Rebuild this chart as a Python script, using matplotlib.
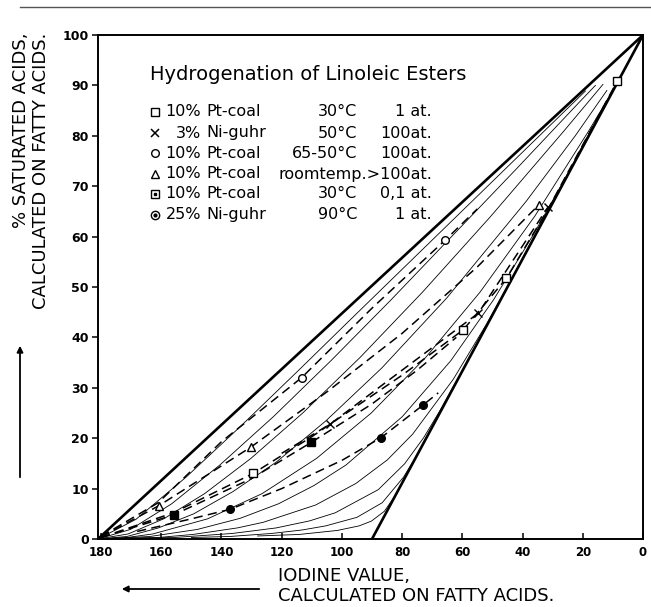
import matplotlib
matplotlib.use("Agg")
import matplotlib.pyplot as plt
from matplotlib.lines import Line2D
from matplotlib.patches import FancyArrowPatch

W, H, DPI = 651, 607, 100

# ---------------- data (iodine value, % saturated acids) ----------------
upper_iv = [181, 0]
upper_sat = [0, 100]
lower_iv = [90, 0]
lower_sat = [0, 100]

# thin family of curves
c1_iv = [181, 168.4, 151.7, 133.4, 114.5, 95.5, 76.4, 57.3, 38.2, 19.1]
c1_sat = [0, 3.9, 12.3, 22.5, 33.4, 44.5, 55.6, 66.7, 77.8, 88.9]
c2_iv = [181, 170.2, 156.5, 140.5, 122.7, 103.6, 83.6, 63.1, 42.1, 21.1, 15.8]
c2_sat = [0, 1.9, 7.0, 14.7, 24.3, 35.4, 47.5, 60.3, 73.4, 86.7, 90.0]
c3_iv = [181, 171, 159.2, 145.6, 130.2, 113, 94, 73.2, 50.6, 26.2, 13.3]
c3_sat = [0, 1, 4, 9, 16, 25, 36, 49, 64, 81, 90.2]
c4_iv = [181, 171.4, 160.9, 149.2, 136.2, 121.7, 105.4, 86.8, 65.2, 38.8, 22.5, 12]
c4_sat = [0, 0.5, 2.2, 5.0, 9.4, 15.3, 23.4, 33.9, 47.8, 67.0, 80.0, 89.0]
c5_iv = [181, 171.9, 162.8, 144.6, 126.5, 108.4, 90.25, 72.2, 54.1, 36.0, 18.0, 11]
c5_sat = [0, 0.25, 1, 4, 9, 16, 25, 36, 49, 64, 81, 88]
c6_iv = [181, 163.7, 148, 133.8, 121, 109.3, 98.6, 79.9, 63.8, 49.6, 36.5, 24.1, 13]
c6_sat = [0, 0.5, 1.9, 4.1, 7.0, 10.6, 14.7, 24.3, 35.4, 47.5, 60.3, 73.4, 86.0]
c7_iv = [178, 161, 149.5, 134.7, 126.2, 108.7, 95.4, 84.9, 76.5, 63, 51.7, 41.1, 30.9, 20.6]
c7_sat = [0.1, 0.3, 0.9, 2.2, 3.3, 6.75, 11.0, 15.7, 20.8, 31.7, 42.9, 54.3, 65.7, 77.1]
c8_iv = [170, 155.6, 136.4, 121.8, 110.7, 102.2, 87.9, 79.2, 72.85, 67.5, 57.6, 48]
c8_sat = [0.15, 0.3, 1.1, 2.2, 3.6, 5.2, 9.8, 14.9, 20.1, 25.4, 36, 46.7]
c9_iv = [150, 137.2, 123.3, 113.1, 105.4, 95, 86.6, 79.5, 74.3]
c9_sat = [0.3, 0.5, 1.1, 1.8, 2.6, 4.3, 7.2, 12.3, 17.4]
c10_iv = [128, 114.2, 101.5, 94.3, 90.2, 85.9, 82.3]
c10_sat = [0.6, 0.9, 1.7, 2.6, 3.55, 5.5, 8.6]

# experimental series: measured points
sq_iv = [129.5, 59.7, 45.4, 8.5]
sq_sat = [13.0, 41.5, 51.7, 90.9]
x_iv = [103.9, 54.7, 31.5]
x_sat = [22.8, 44.8, 65.9]
ci_iv = [113.4, 65.7]
ci_sat = [32.0, 59.3]
tr_iv = [160.8, 130.3, 34.6]
tr_sat = [6.6, 18.2, 66.3]
bs_iv = [155.8, 110.1]
bs_sat = [4.8, 19.2]
dc_iv = [137.1, 87.0, 73.0]
dc_sat = [5.9, 20.1, 26.6]

# dashed connecting lines (read along the drawn dashes)
sq_path_iv = [180, 156, 129.5, 110, 80, 59.7, 45.4, 31.5, 8.5]
sq_path_sat = [0.3, 5.2, 13.0, 20.3, 32.5, 41.5, 51.7, 65.5, 90.9]
x_path_iv = [120, 103.9, 80, 54.7, 31.5]
x_path_sat = [17.0, 22.8, 33.5, 44.8, 65.9]
ci_path_iv = [180, 161, 140, 113.4, 90, 65.7, 55]
ci_path_sat = [0.5, 7.2, 19.3, 32.0, 45.8, 59.3, 65.5]
tr_path_iv = [180, 160.8, 130.3, 104.5, 80, 55, 34.6]
tr_path_sat = [0.4, 6.6, 18.2, 29.4, 40.8, 54.0, 66.3]
bs_path_iv = [180, 155.8, 130, 110.1, 90, 75, 62]
bs_path_sat = [0.3, 4.8, 12.0, 19.2, 26.8, 33.5, 40.0]
dc_path_iv = [168, 150, 137.1, 120, 100, 87.0, 73.0, 68]
dc_path_sat = [1.5, 4.0, 5.9, 10.0, 15.6, 20.1, 26.6, 29.0]

x_ticks = [180, 160, 140, 120, 100, 80, 60, 40, 20, 0]
y_ticks = [0, 10, 20, 30, 40, 50, 60, 70, 80, 90, 100]

legend_markers = ["s", "x", "o", "^", "sdot", "odot"]
legend_cat = ["10%", "3%", "10%", "10%", "10%", "25%"]
legend_cat2 = ["Pt-coal", "Ni-guhr", "Pt-coal", "Pt-coal", "Pt-coal", "Ni-guhr"]
legend_temp = ["30°C", "50°C", "65-50°C", "", "30°C", "90°C"]
legend_press = ["1 at.", "100at.", "100at.", "roomtemp.>100at.", "0,1 at.", "1 at."]
title_text = "Hydrogenation of Linoleic Esters"

# ---------------- figure ----------------
plt.rcParams['font.family'] = ['DejaVu Sans']
fig = plt.figure(figsize=(W / DPI, H / DPI), dpi=DPI)
L, R, T, B = 98, 643, 35, 539
ax = fig.add_axes([L / W, 1 - B / H, (R - L) / W, (B - T) / H])
ax.set_xlim(181, 0)
ax.set_ylim(0, 100)

k = 'black'
ax.plot(upper_iv, upper_sat, color=k, lw=1.9, solid_capstyle='butt')
ax.plot(lower_iv, lower_sat, color=k, lw=1.9, solid_capstyle='butt')

curves = [(c1_iv, c1_sat), (c2_iv, c2_sat), (c3_iv, c3_sat), (c4_iv, c4_sat),
          (c5_iv, c5_sat), (c6_iv, c6_sat), (c7_iv, c7_sat), (c8_iv, c8_sat),
          (c9_iv, c9_sat), (c10_iv, c10_sat)]
for xs, ys in curves:
    ax.plot(xs, ys, color=k, lw=0.6)

dash = (0, (6, 3.5))
paths = [(sq_path_iv, sq_path_sat), (x_path_iv, x_path_sat), (ci_path_iv, ci_path_sat),
         (tr_path_iv, tr_path_sat), (bs_path_iv, bs_path_sat), (dc_path_iv, dc_path_sat)]
for xs, ys in paths:
    ax.plot(xs, ys, color=k, lw=1.1, linestyle=dash)

ms = 5.5
ax.plot(sq_iv, sq_sat, 's', ms=ms, mfc='white', mec=k, mew=1.0, ls='none')
ax.plot(x_iv, x_sat, 'x', ms=ms, mec=k, mew=1.0, ls='none')
ax.plot(ci_iv, ci_sat, 'o', ms=ms, mfc='white', mec=k, mew=1.0, ls='none')
ax.plot(tr_iv, tr_sat, '^', ms=ms + 0.5, mfc='white', mec=k, mew=1.0, ls='none')
ax.plot(bs_iv, bs_sat, 's', ms=ms, mfc=k, mec=k, mew=1.0, ls='none')
ax.plot(dc_iv, dc_sat, 'o', ms=ms, mfc=k, mec=k, mew=1.0, ls='none')

ax.set_xticks(x_ticks)
ax.set_xticklabels([str(v) for v in x_ticks], fontsize=8.5, fontweight='bold')
ax.set_yticks(y_ticks)
ax.set_yticklabels([str(v) for v in y_ticks], fontsize=9, fontweight='bold')
ax.tick_params(axis='x', direction='in', length=4.5, width=1.1, pad=5)
ax.tick_params(axis='y', direction='out', length=4.5, width=1.1, pad=2)
for s in ax.spines.values():
    s.set_linewidth(1.4)

def fx(px):
    return px / W

def fy(py):
    return 1 - py / H

# title + legend block
fig.text(fx(150), fy(74), title_text, fontsize=14, ha='left', va='center')
rows_y = [112, 133, 153, 174, 194, 215]
fs_leg = 11.5
for i, m in enumerate(legend_markers):
    yy = fy(rows_y[i])
    mx = fx(155)
    if m == 'sdot':
        fig.add_artist(Line2D([mx], [yy], marker='s', ms=5.5, mfc='white', mec=k, mew=1.0))
        fig.add_artist(Line2D([mx], [yy], marker='s', ms=2.0, mfc=k, mec=k))
    elif m == 'odot':
        fig.add_artist(Line2D([mx], [yy], marker='o', ms=6, mfc='white', mec=k, mew=1.0))
        fig.add_artist(Line2D([mx], [yy], marker='o', ms=2.0, mfc=k, mec=k))
    elif m == 'x':
        fig.add_artist(Line2D([mx], [yy], marker='x', ms=5.5, mec=k, mew=1.1))
    else:
        fig.add_artist(Line2D([mx], [yy], marker=m, ms=5.5, mfc='white', mec=k, mew=1.0))
    fig.text(fx(201), yy, legend_cat[i], fontsize=fs_leg, ha='right', va='center')
    fig.text(fx(206), yy, legend_cat2[i], fontsize=fs_leg, ha='left', va='center')
    if legend_temp[i]:
        fig.text(fx(357), yy, legend_temp[i], fontsize=fs_leg, ha='right', va='center')
    fig.text(fx(432), yy, legend_press[i], fontsize=fs_leg, ha='right', va='center')

# axis labels
fs_lab = 13
fig.text(fx(21), fy(33), "% SATURATED ACIDS,", rotation=90, fontsize=fs_lab,
         ha='center', va='top')
fig.text(fx(41), fy(33), "CALCULATED ON FATTY ACIDS.", rotation=90, fontsize=fs_lab,
         ha='center', va='top')
fig.text(fx(278), fy(576), "IODINE VALUE,", fontsize=fs_lab, ha='left', va='center')
fig.text(fx(278), fy(596), "CALCULATED ON FATTY ACIDS.", fontsize=fs_lab, ha='left', va='center')

fig.add_artist(FancyArrowPatch(
    (fx(20), fy(480)), (fx(20), fy(343)), transform=fig.transFigure,
    arrowstyle='-|>', mutation_scale=9, color=k, lw=1.3))
fig.add_artist(FancyArrowPatch(
    (fx(262), fy(589)), (fx(119), fy(589)), transform=fig.transFigure,
    arrowstyle='-|>', mutation_scale=9, color=k, lw=1.3))

# scan rule at the top
fig.add_artist(Line2D([fx(20), fx(651)], [fy(7), fy(7)], color='#555555', lw=1.0))

fig.savefig("out.png", dpi=DPI)
